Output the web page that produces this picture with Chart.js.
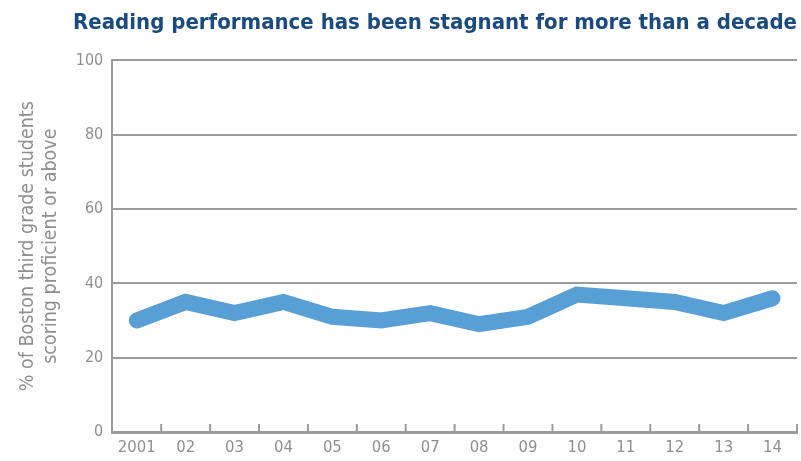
<!DOCTYPE html>
<html>
<head>
<meta charset="utf-8">
<script src="https://cdn.jsdelivr.net/npm/chart.js@4/dist/chart.umd.min.js"></script>
<style>
  body { margin: 0; background: #fff; }
  #wrap { width: 801px; height: 461px; }
</style>
</head>
<body>
<div id="wrap"><canvas id="grafico"></canvas></div>
<script>
// dados
const anos = ['2001', '02', '03', '04', '05', '06', '07', '08', '09', '10', '11', '12', '13', '14'];
const proficientes = [30, 35, 32, 35, 31, 30, 32, 29, 31, 37, 36, 35, 32, 36];
const yTicks = [0, 20, 40, 60, 80, 100];

const fonte = "'DejaVu Sans Condensed', 'Liberation Sans Narrow', sans-serif";
const cinza = '#9b9b9b';

// marcas pequenas no eixo x, entre as categorias, para dentro
const marcasX = {
    id: 'marcasX',
    afterDraw(chart) {
        const x = chart.scales.x;
        const ctx = chart.ctx;
        const passo = x.getPixelForValue(1) - x.getPixelForValue(0);
        ctx.save();
        ctx.strokeStyle = cinza;
        ctx.lineWidth = 2;
        for (let i = 0; i < anos.length; i++) {
            const px = x.getPixelForValue(i) + passo / 2;
            ctx.beginPath();
            ctx.moveTo(px, x.top);
            ctx.lineTo(px, x.top - 8);
            ctx.stroke();
        }
        ctx.restore();
    }
};

const ctx = document.getElementById('grafico').getContext('2d');
const grafico = new Chart(ctx, {
    type: 'line',
    data: {
        labels: anos,
        datasets: [{
            data: proficientes,
            borderColor: '#589fd5',
            borderWidth: 16,
            borderCapStyle: 'round',
            borderJoinStyle: 'miter',
            pointRadius: 0,
            tension: 0,
            fill: false
        }]
    },
    options: {
        responsive: true,
        maintainAspectRatio: false,
        animation: false,
        layout: { padding: { left: 16, right: 4, top: 4, bottom: 0 } },
        plugins: {
            legend: { display: false },
            tooltip: { enabled: false },
            title: {
                display: true,
                text: 'Reading performance has been stagnant for more than a decade',
                align: 'end',
                color: '#1b4a7c',
                font: { family: fonte, size: 22, weight: 'bold' },
                padding: { top: 6, bottom: 24 }
            }
        },
        scales: {
            x: {
                offset: true,
                afterFit(scale) { scale.height = 29; },
                grid: { display: false, drawOnChartArea: false },
                border: { display: true, color: cinza, width: 3 },
                ticks: {
                    color: '#8f8f8f',
                    font: { family: fonte, size: 16.5 },
                    padding: -2,
                    maxRotation: 0,
                    autoSkip: false
                }
            },
            y: {
                min: 0,
                max: 100,
                afterBuildTicks(scale) {
                    scale.ticks = yTicks.map(v => ({ value: v }));
                },
                grid: { color: cinza, lineWidth: 2, drawTicks: false },
                border: { display: true, color: cinza, width: 2 },
                ticks: {
                    color: '#8f8f8f',
                    font: { family: fonte, size: 16 },
                    padding: 9
                },
                title: {
                    display: true,
                    text: ['% of Boston third grade students', 'scoring proficient or above'],
                    color: '#8f8f8f',
                    font: { family: fonte, size: 19.5 },
                    padding: { top: 0, bottom: 4 }
                }
            }
        }
    },
    plugins: [marcasX]
});
</script>
</body>
</html>
